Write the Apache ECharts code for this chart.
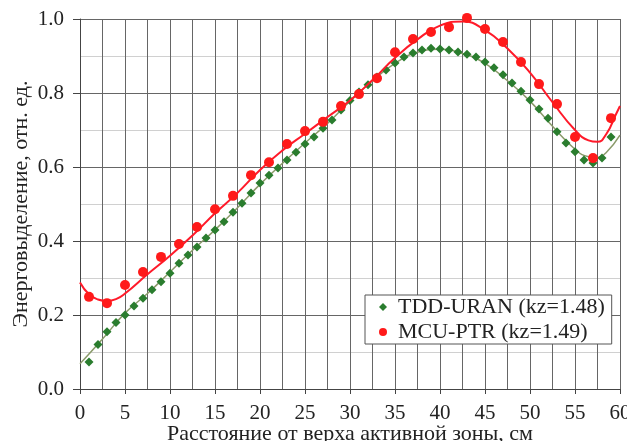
<!DOCTYPE html>
<html>
<head>
<meta charset="utf-8">
<script src="https://cdn.jsdelivr.net/npm/echarts@6/dist/echarts.min.js"></script>
<style>html,body{margin:0;padding:0;background:#fff}#c{width:627px;height:441px}</style>
</head>
<body>
<div id="c"></div>
<script>
// TDD-URAN markers (x in cm, relative power)
const tddX = [1,2,3,4,5,6,7,8,9,10,11,12,13,14,15,16,17,18,19,20,21,22,23,24,25,26,27,28,29,30,31,32,33,34,35,36,37,38,39,40,41,42,43,44,45,46,47,48,49,50,51,52,53,54,55,56,57,58,59];
const tddY = [0.073,0.12,0.155,0.18,0.2,0.224,0.245,0.268,0.29,0.313,0.34,0.362,0.384,0.408,0.43,0.452,0.478,0.502,0.53,0.557,0.578,0.597,0.619,0.64,0.662,0.681,0.705,0.727,0.754,0.78,0.803,0.822,0.843,0.862,0.881,0.897,0.908,0.916,0.921,0.919,0.916,0.911,0.905,0.897,0.884,0.868,0.849,0.827,0.805,0.781,0.757,0.732,0.695,0.665,0.641,0.619,0.611,0.624,0.681];
// MCU-PTR markers
const mcuX = [1,3,5,7,9,11,13,15,17,19,21,23,25,27,29,31,33,35,37,39,41,43,45,47,49,51,53,55,57,59];
const mcuY = [0.249,0.232,0.281,0.316,0.357,0.392,0.438,0.486,0.522,0.578,0.613,0.662,0.697,0.722,0.765,0.797,0.84,0.91,0.946,0.965,0.978,1.003,0.973,0.938,0.884,0.824,0.77,0.681,0.624,0.732];
// fitted curves
const tddLineX = [0,2.5,5,7.5,10,12.5,15,17.5,20,22.5,25,27.5,30,32.5,35,37.5,40,42.5,45,47.5,50,52.5,55,56.5,57.5,58.5,60];
const tddLineY = [0.068,0.135,0.205,0.258,0.316,0.375,0.43,0.49,0.553,0.61,0.665,0.718,0.778,0.833,0.88,0.91,0.918,0.907,0.88,0.833,0.778,0.71,0.648,0.628,0.626,0.64,0.686];
const mcuLineX = [0,1,2,3,4,5,7.5,10,12.5,15,17.5,20,22.5,25,27.5,30,32.5,35,37.5,40,42.5,45,47.5,50,52.5,55,56.5,57.5,58.5,59.5,60];
const mcuLineY = [0.288,0.256,0.242,0.238,0.243,0.258,0.31,0.36,0.415,0.475,0.53,0.592,0.645,0.69,0.735,0.78,0.835,0.895,0.945,0.982,0.993,0.97,0.92,0.855,0.775,0.7,0.672,0.668,0.69,0.74,0.765];
const xTicks = [0,5,10,15,20,25,30,35,40,45,50,55,60];
const yTicks = [0,0.2,0.4,0.6,0.8,1.0];
const names = ['TDD-URAN (kz=1.48)','MCU-PTR (kz=1.49)'];

const zip = (a,b) => a.map((v,i)=>[v,b[i]]);
const font = '"Liberation Serif","Times New Roman",serif';
const chart = echarts.init(document.getElementById('c'));
chart.setOption({
  animation:false,
  backgroundColor:'#fff',
  grid:{left:80,right:7,top:19,bottom:52,containLabel:false,outerBoundsMode:'none'},
  xAxis:{
    type:'value',min:xTicks[0],max:xTicks[xTicks.length-1],interval:5,
    name:'Расстояние от верха активной зоны, см',nameLocation:'middle',nameGap:34,nameMoveOverlap:false,
    nameTextStyle:{fontFamily:font,fontSize:22,color:'#222'},
    axisLine:{show:true,lineStyle:{color:'#444',width:1}},
    axisTick:{show:true,length:5,lineStyle:{color:'#444'}},
    axisLabel:{fontFamily:font,fontSize:21,color:'#222',margin:14},
    splitLine:{show:true,lineStyle:{color:'#666',width:1}},
    minorTick:{show:false,splitNumber:2},
    minorSplitLine:{show:true,lineStyle:{color:'#666',width:1}}
  },
  yAxis:{
    type:'value',min:yTicks[0],max:yTicks[yTicks.length-1],interval:0.2,
    name:'Энерговыделение, отн. ед.',nameLocation:'middle',nameGap:48,nameMoveOverlap:false,
    nameTextStyle:{fontFamily:font,fontSize:22,color:'#222'},
    axisLine:{show:true,lineStyle:{color:'#444',width:1}},
    axisTick:{show:true,length:7,lineStyle:{color:'#444'}},
    axisLabel:{fontFamily:font,fontSize:21,color:'#222',margin:16,formatter:v=>v.toFixed(1)},
    splitLine:{show:true,lineStyle:{color:'#666',width:1}},
    minorTick:{show:false,splitNumber:2},
    minorSplitLine:{show:true,lineStyle:{color:'#d0d0d0',width:1}}
  },
  legend:{
    orient:'vertical',left:365,top:295,
    backgroundColor:'#fff',borderColor:'#555',borderWidth:1,borderRadius:0,
    padding:[1,7,1,14],itemGap:3,itemWidth:8,itemHeight:8,
    textStyle:{fontFamily:font,fontSize:22,color:'#222',padding:[0,0,0,6]},
    data:[{name:names[0],icon:'diamond'},{name:names[1],icon:'circle'}]
  },
  series:[
    {type:'line',name:'tddfit',data:zip(tddLineX,tddLineY),smooth:0.5,showSymbol:false,
     lineStyle:{color:'#8a9a6a',width:1.5},z:2,silent:true},
    {type:'scatter',name:names[0],data:zip(tddX,tddY),symbol:'diamond',symbolSize:9,
     itemStyle:{color:'#2a7d2e',opacity:1},z:3,clip:false},
    {type:'line',name:'mcufit',data:zip(mcuLineX,mcuLineY),smooth:0.5,showSymbol:false,
     lineStyle:{color:'#ff1a2a',width:2},z:4,silent:true},
    {type:'scatter',name:names[1],data:zip(mcuX,mcuY),symbol:'circle',symbolSize:10,
     itemStyle:{color:'#ff1a1a',opacity:1},z:5,clip:false}
  ]
});
</script>
</body>
</html>
